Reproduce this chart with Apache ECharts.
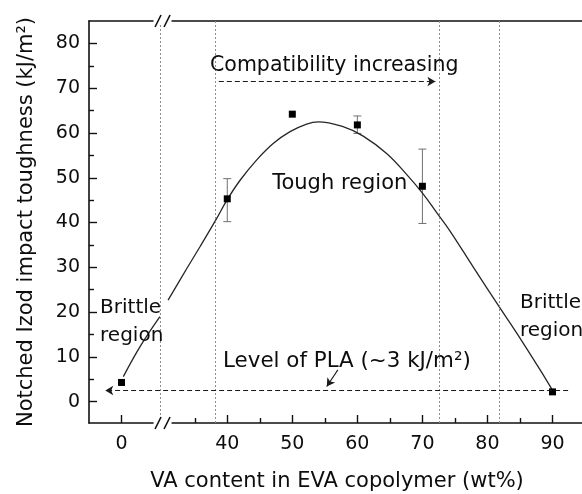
<!DOCTYPE html>
<html>
<head>
<meta charset="utf-8">
<script src="https://cdn.jsdelivr.net/npm/echarts@6/dist/echarts.min.js"></script>
<style>
  html, body { margin: 0; padding: 0; background: #fff; }
  #chart { width: 582px; height: 494px; }
</style>
</head>
<body>
<div id="chart"></div>
<script>
// measured points (VA content, wt%) and notched Izod impact toughness
var vaContent = [0, 40, 50, 60, 70, 90];
var toughness = [4.3, 45.3, 64.2, 61.8, 48.1, 2.2];
var errLow  = [null, 40.2, null, 59.9, 39.8, null];
var errHigh = [null, 49.8, null, 63.8, 56.4, null];

// fitted curve
var fitX = [0.28, 2.85, 5.9, 30.9, 33.8, 35.8, 38.4, 39.9, 42.0, 44.5, 47.1, 49.65, 52.2,
            54.0, 57.8, 60.9, 64.5, 67.6, 70.1, 72.2, 74.25, 77.8, 81.9, 85.0, 88.1, 89.9];
var fitY = [5.6, 12.3, 19.0, 22.7, 29.8, 34.6, 41.0, 44.9, 49.5, 53.95, 57.7, 60.3, 62.0,
            62.5, 61.4, 59.3, 55.4, 50.7, 46.4, 42.2, 38.1, 30.1, 21.0, 14.2, 7.1, 2.8];

// ticks
var xMajor = [0, 40, 50, 60, 70, 80, 90];
var xMinor = [35, 45, 55, 65, 75, 85];
var yMajor = [0, 10, 20, 30, 40, 50, 60, 70, 80];
var yMinor = [5, 15, 25, 35, 45, 55, 65, 75];

// region boundaries (dotted verticals)
var regionLines = [6, 38.2, 72.6, 81.8];

// broken x axis: 0..6 shown as is, everything above is pulled left
var breakX = 6;
var shift = 23.74;
function toAxis(x) { return x <= breakX ? x : x - shift; }
function fromAxis(u) { return u <= breakX ? u : u + shift; }

var xMin = -5, xMax = toAxis(95);
var yMin = -4.75, yMax = 85;

var FONT = 'DejaVu Sans';
var INK = '#0d0d0d';

var points = vaContent.map(function (x, i) { return [toAxis(x), toughness[i]]; });

var errData = [];
for (var i = 0; i < vaContent.length; i++) {
  if (errLow[i] != null) errData.push([toAxis(vaContent[i]), errLow[i], errHigh[i]]);
}

var curve = [];
for (var j = 0; j < fitX.length; j++) {
  if (j > 0 && fitX[j - 1] <= breakX && fitX[j] > breakX) curve.push([breakX + 0.6, null]);
  curve.push([toAxis(fitX[j]), fitY[j]]);
}

var notes = [
  { text: 'Compatibility increasing', x: 37.35, y: 75.0, size: 20.5 },
  { text: 'Tough region', x: 46.9, y: 48.8, size: 21 },
  { text: 'Brittle\nregion', x: -3.3, y: 17.9, size: 20 },
  { text: 'Brittle\nregion', x: 85.0, y: 19.0, size: 20 },
  { text: 'Level of PLA (~3 kJ/m\u00b2)', x: 39.35, y: 8.9, size: 21.4 }
];

var chart = echarts.init(document.getElementById('chart'));

var option = {
  animation: false,
  backgroundColor: '#fff',
  grid: { left: 89, right: -3, top: 21, bottom: 71, containLabel: false, outerBoundsMode: 'none' },
  xAxis: [
    {
      type: 'value', min: xMin, max: xMax, position: 'bottom',
      name: 'VA content in EVA copolymer (wt%)', nameLocation: 'middle', nameGap: 48,
      nameTextStyle: { fontFamily: FONT, fontSize: 21, color: INK },
      axisLine: { show: true, onZero: false, lineStyle: { color: '#111', width: 1.6 } },
      axisTick: { show: true, inside: true, length: 8, customValues: xMajor.map(toAxis), lineStyle: { color: '#111', width: 1.4 } },
      axisLabel: {
        show: true, margin: 12, customValues: xMajor.map(toAxis),
        fontFamily: FONT, fontSize: 19, color: INK,
        formatter: function (v) { return Math.round(fromAxis(v)); }
      },
      splitLine: { show: false }
    },
    {
      type: 'value', min: xMin, max: xMax, position: 'bottom',
      axisLine: { show: false, onZero: false },
      axisTick: { show: true, inside: true, length: 5, customValues: xMinor.map(toAxis), lineStyle: { color: '#111', width: 1.4 } },
      axisLabel: { show: false },
      splitLine: { show: false }
    },
    {
      type: 'value', min: xMin, max: xMax, position: 'top',
      axisLine: { show: true, onZero: false, lineStyle: { color: '#111', width: 1.6 } },
      axisTick: { show: false }, axisLabel: { show: false }, splitLine: { show: false }
    }
  ],
  yAxis: [
    {
      type: 'value', min: yMin, max: yMax,
      name: 'Notched Izod impact toughness (kJ/m\u00b2)', nameLocation: 'middle', nameGap: 52,
      nameTextStyle: { fontFamily: FONT, fontSize: 21, color: INK },
      axisLine: { show: true, onZero: false, lineStyle: { color: '#111', width: 1.6 } },
      axisTick: { show: true, inside: true, length: 8, customValues: yMajor, lineStyle: { color: '#111', width: 1.4 } },
      axisLabel: { show: true, margin: 9, customValues: yMajor, fontFamily: FONT, fontSize: 19, color: INK },
      splitLine: { show: false }
    },
    {
      type: 'value', min: yMin, max: yMax, position: 'left',
      axisLine: { show: false, onZero: false },
      axisTick: { show: true, inside: true, length: 5, customValues: yMinor, lineStyle: { color: '#111', width: 1.4 } },
      axisLabel: { show: false }, splitLine: { show: false }
    }
  ],
  series: [
    {
      name: 'guides', type: 'line', data: [], silent: true,
      markLine: {
        silent: true, symbol: 'none', animation: false,
        label: { show: false },
        lineStyle: { color: '#8c8c8c', width: 1, type: [2, 2] },
        data: regionLines.map(function (x) { return { xAxis: toAxis(x) }; })
      }
    },
    {
      name: 'arrows', type: 'line', data: [], silent: true,
      markLine: {
        silent: true, animation: false, symbolSize: [7, 8],
        label: { show: false },
        lineStyle: { color: '#1a1a1a', width: 1.1, type: [5, 3] },
        data: [
          [{ coord: [toAxis(38.7), 71.5], symbol: 'none' }, { coord: [toAxis(72.0), 71.5], symbol: 'arrow' }],
          [{ coord: [toAxis(92.4), 2.5], symbol: 'none' }, { coord: [-2.5, 2.5], symbol: 'arrow' }],
          [{ coord: [toAxis(57.0), 7.1], symbol: 'none', lineStyle: { type: 'solid' } },
           { coord: [toAxis(55.3), 3.4], symbol: 'arrow', lineStyle: { type: 'solid' } }]
        ]
      }
    },
    {
      name: 'fit', type: 'line', data: curve, smooth: 0.4, showSymbol: false,
      connectNulls: false, silent: true,
      lineStyle: { color: '#262626', width: 1.3 }
    },
    {
      name: 'error', type: 'custom', data: errData, silent: true,
      encode: { x: 0, y: [1, 2] },
      renderItem: function (params, api) {
        var lo = api.coord([api.value(0), api.value(1)]);
        var hi = api.coord([api.value(0), api.value(2)]);
        var w = 4;
        var st = { stroke: '#707070', lineWidth: 1 };
        return {
          type: 'group', children: [
            { type: 'line', shape: { x1: lo[0], y1: lo[1], x2: hi[0], y2: hi[1] }, style: st },
            { type: 'line', shape: { x1: lo[0] - w, y1: lo[1], x2: lo[0] + w, y2: lo[1] }, style: st },
            { type: 'line', shape: { x1: hi[0] - w, y1: hi[1], x2: hi[0] + w, y2: hi[1] }, style: st }
          ]
        };
      }
    },
    {
      name: 'data', type: 'scatter', data: points, symbol: 'rect', symbolSize: 7,
      itemStyle: { color: '#000', opacity: 1 }, silent: true, z: 4
    },
    {
      name: 'notes', type: 'scatter', symbolSize: 0, silent: true, z: 5,
      itemStyle: { opacity: 1 },
      data: notes.map(function (n) {
        return { value: [toAxis(n.x), n.y], name: n.text, label: { fontSize: n.size } };
      }),
      label: {
        show: true, position: [0, 0], align: 'left', verticalAlign: 'middle',
        fontFamily: FONT, fontSize: 20, lineHeight: 28, color: INK, opacity: 1,
        formatter: function (p) { return p.name; }
      }
    },
    {
      name: 'breaks', type: 'custom', clip: false, silent: true, z: 6,
      data: [[breakX, yMin], [breakX, yMax]],
      renderItem: function (params, api) {
        var p = api.coord([api.value(0), api.value(1)]);
        var cx = p[0] + 2, cy = p[1];
        var st = { stroke: '#111', lineWidth: 1.6 };
        return {
          type: 'group', children: [
            { type: 'rect', shape: { x: cx - 9, y: cy - 3, width: 18, height: 6 }, style: { fill: '#fff' } },
            { type: 'line', shape: { x1: cx - 7.5, y1: cy + 6, x2: cx - 1.5, y2: cy - 6 }, style: st },
            { type: 'line', shape: { x1: cx + 1.5, y1: cy + 6, x2: cx + 7.5, y2: cy - 6 }, style: st }
          ]
        };
      }
    }
  ]
};

chart.setOption(option);
</script>
</body>
</html>
